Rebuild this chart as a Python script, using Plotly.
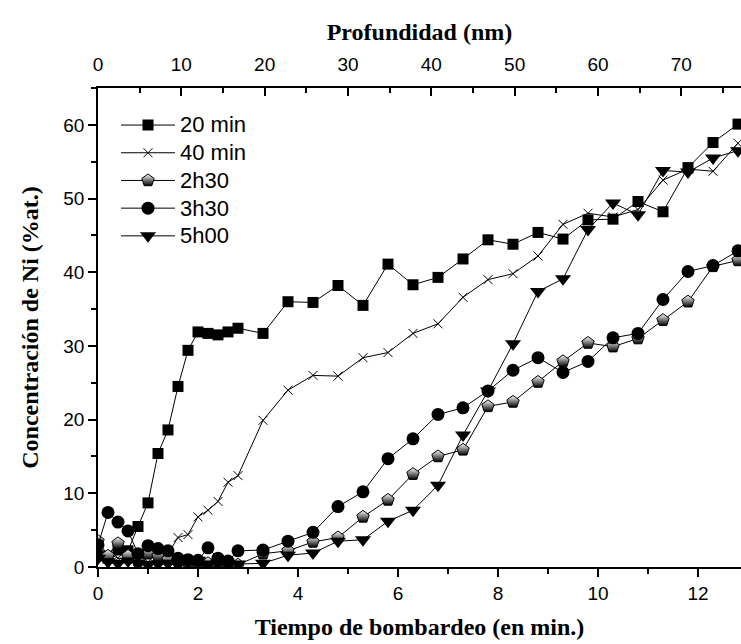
import plotly.graph_objects as go

# Time axis (min)
tiempo = [0, 0.2, 0.4, 0.6, 0.8, 1.0, 1.2, 1.4, 1.6, 1.8, 2.0, 2.2, 2.4, 2.6, 2.8,
          3.3, 3.8, 4.3, 4.8, 5.3, 5.8, 6.3, 6.8, 7.3, 7.8, 8.3, 8.8, 9.3, 9.8,
          10.3, 10.8, 11.3, 11.8, 12.3, 12.8]

ni_20min = [1.5, 1.2, 2.3, 2.2, 5.5, 8.7, 15.4, 18.6, 24.5, 29.4, 31.9, 31.7, 31.5, 31.9, 32.4,
            31.7, 36.0, 35.9, 38.2, 35.5, 41.1, 38.3, 39.3, 41.8, 44.4, 43.8, 45.4, 44.5, 47.1,
            47.2, 49.6, 48.2, 54.2, 57.6, 60.1]
ni_40min = [2.5, 1.8, 1.2, 1.0, 0.8, 0.7, 1.0, 1.8, 4.0, 4.4, 6.8, 7.7, 8.9, 11.5, 12.4,
            19.9, 24.0, 26.0, 25.9, 28.4, 29.1, 31.7, 33.0, 36.6, 39.0, 39.8, 42.2, 46.5, 48.0,
            47.5, 48.5, 52.5, 54.0, 53.7, 57.5]
ni_2h30 = [3.5, 1.5, 3.2, 1.5, 0.8, 1.8, 1.5, 1.0, 0.8, 0.6, 0.5, 0.5, 0.4, 0.3, 0.3,
           1.8, 2.2, 3.4, 4.0, 6.8, 9.1, 12.6, 15.0, 15.9, 21.8, 22.4, 25.1, 27.9, 30.4,
           29.9, 31.0, 33.5, 36.0, 40.8, 41.6]
ni_3h30 = [3.0, 7.4, 6.1, 4.9, 1.8, 2.9, 2.5, 2.2, 1.2, 1.0, 0.9, 2.6, 1.2, 0.8, 2.2,
           2.3, 3.5, 4.7, 8.2, 10.2, 14.7, 17.4, 20.7, 21.6, 23.9, 26.7, 28.4, 26.4, 27.9,
           31.1, 31.7, 36.3, 40.1, 40.9, 42.9]
ni_5h00 = [1.2, 0.7, 0.5, 0.8, 0.5, 0.3, 0.4, 0.5, 0.3, 0.8, 0.9, 0.4, 0.5, 0.4, 0.4,
           0.5, 1.6, 1.9, 3.5, 3.7, 6.2, 7.7, 11.1, 17.9, 23.9, 30.3, 37.4, 39.1, 45.8,
           49.4, 47.8, 53.8, 53.6, 55.5, 56.5]

series_names = ["20 min", "40 min", "2h30", "3h30", "5h00"]
x_max = 12.86
nm_per_min = 6
depth_range = [0, x_max * nm_per_min]


def legend_label(txt):
    return '<span style="font-size:22px">' + txt + '</span>'


fig = go.Figure()

common_line = dict(color="black", width=1)

fig.add_trace(go.Scatter(x=tiempo, y=ni_20min, name=legend_label(series_names[0]),
                         mode="lines+markers", line=common_line,
                         marker=dict(symbol="square", size=11, color="black")))
fig.add_trace(go.Scatter(x=tiempo, y=ni_40min, name=legend_label(series_names[1]),
                         mode="lines+markers", line=common_line,
                         marker=dict(symbol="x-thin", size=9, color="black",
                                     line=dict(color="black", width=1))))
fig.add_trace(go.Scatter(x=tiempo, y=ni_2h30, name=legend_label(series_names[2]),
                         mode="lines+markers", line=common_line,
                         marker=dict(symbol="pentagon", size=13, color="white",
                                     gradient=dict(type="vertical", color="black"),
                                     line=dict(color="black", width=1))))
fig.add_trace(go.Scatter(x=tiempo, y=ni_3h30, name=legend_label(series_names[3]),
                         mode="lines+markers", line=common_line,
                         marker=dict(symbol="circle", size=13, color="black")))
fig.add_trace(go.Scatter(x=tiempo, y=ni_5h00, name=legend_label(series_names[4]),
                         mode="lines+markers", line=common_line,
                         marker=dict(symbol="triangle-down", size=14, color="black")))

# helper (invisible) trace so that the top depth axis is drawn
fig.add_trace(go.Scatter(x=depth_range, y=[None, None], xaxis="x2", yaxis="y",
                         mode="markers", showlegend=False, hoverinfo="skip"))

tick_font = dict(family="Liberation Sans, Arial, sans-serif", size=19, color="black")
title_font = dict(family="Liberation Serif, Times New Roman, serif", size=24, color="black")

fig.update_layout(
    width=741, height=644,
    margin=dict(l=98, r=0, t=88, b=77),
    paper_bgcolor="white", plot_bgcolor="white",
    showlegend=True,
    legend=dict(x=0.028, y=0.962, xanchor="left", yanchor="top",
                bgcolor="rgba(0,0,0,0)", borderwidth=0,
                font=dict(family="Liberation Sans, Arial, sans-serif", size=19, color="black"),
                itemwidth=54, tracegroupgap=0),
    xaxis=dict(range=[0, x_max], tick0=0, dtick=2, ticks="outside", ticklen=8, tickwidth=1.5,
               tickcolor="black", showline=True, linecolor="black", linewidth=1.5,
               showgrid=False, zeroline=False, tickfont=tick_font,
               minor=dict(dtick=1, ticks="outside", ticklen=5, tickwidth=1.5, tickcolor="black"),
               title=dict(text="<b>Tiempo de bombardeo (en min.)</b>", font=title_font, standoff=16)),
    xaxis2=dict(range=depth_range, overlaying="x", side="top", anchor="y",
                tick0=0, dtick=10, ticks="inside", ticklen=8, tickwidth=1.5, tickcolor="black",
                showline=True, linecolor="black", linewidth=1.5, showgrid=False, zeroline=False,
                tickfont=tick_font, ticklabelstandoff=8,
                minor=dict(dtick=5, ticks="inside", ticklen=5, tickwidth=1.5, tickcolor="black"),
                title=dict(text="<b>Profundidad (nm)</b>", font=title_font, standoff=6)),
    yaxis=dict(range=[0, 65], tick0=0, dtick=10, ticks="outside", ticklen=8, tickwidth=1.5,
               tickcolor="black", showline=True, linecolor="black", linewidth=1.5,
               showgrid=False, zeroline=False, tickfont=tick_font,
               minor=dict(dtick=5, ticks="outside", ticklen=5, tickwidth=1.5, tickcolor="black"),
               title=dict(text="<b>Concentración de Ni (%at.)</b>", font=title_font, standoff=18)),
)

fig.write_html("out.html")
